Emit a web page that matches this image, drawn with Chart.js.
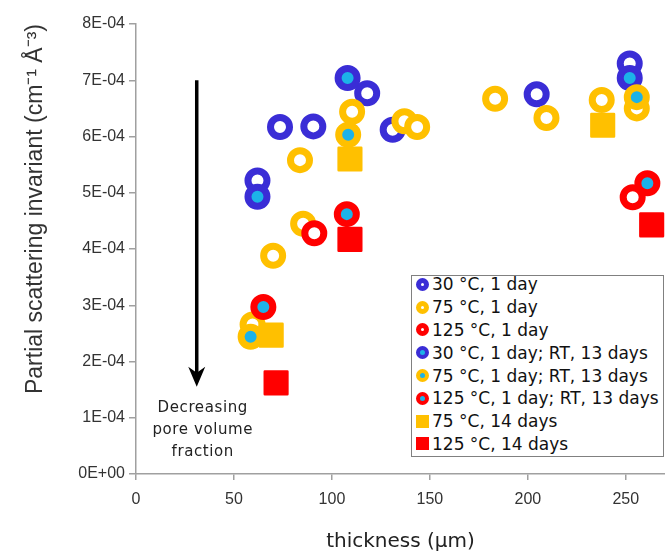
<!DOCTYPE html>
<html>
<head>
<meta charset="utf-8">
<script src="https://cdn.jsdelivr.net/npm/chart.js@4.4.1/dist/chart.umd.min.js"></script>
<style>
    body { margin: 0; background: #fff; overflow: hidden; }
    #wrap { position: relative; width: 665px; height: 552px; overflow: hidden; }
    #legend {
        position: absolute; left: 411px; top: 275px; width: 253px; height: 182px;
        box-sizing: border-box; border: 1.5px solid #808080; background: #fff;
        font: 17px "DejaVu Sans"; color: #111; overflow: hidden;
    }
    #legend .rows { margin-top: -3px; }
    #legend .row { display: flex; align-items: center; height: 22.8px; white-space: nowrap; }
    #legend .mk { box-sizing: border-box; width: 13px; height: 13px; margin: 0 3px 0 4px; flex: none; }
</style>
</head>
<body>
<div id="wrap">
    <canvas id="chart" width="665" height="552"></canvas>
    <div id="legend"><div class="rows"></div></div>
</div>
<script>
// axis ticks
const xTicks = [0, 50, 100, 150, 200, 250];
const yTicks = [0, 1e-4, 2e-4, 3e-4, 4e-4, 5e-4, 6e-4, 7e-4, 8e-4];
const yTickLabels = ["0E+00", "1E-04", "2E-04", "3E-04", "4E-04", "5E-04", "6E-04", "7E-04", "8E-04"];

// [thickness um, invariant]
const blue1Day = [[62, 5.22e-4], [73.5, 6.17e-4], [90.5, 6.18e-4], [118, 6.77e-4], [131, 6.12e-4], [204.5, 6.75e-4], [252, 7.30e-4]];
const yellow1Day = [[59.5, 2.66e-4], [70, 3.88e-4], [83.7, 5.58e-4], [85.3, 4.45e-4], [110.3, 6.44e-4], [137, 6.27e-4], [143.5, 6.17e-4], [183.3, 6.67e-4], [209.5, 6.33e-4], [237.7, 6.65e-4], [255.6, 6.50e-4]];
const red1Day = [[91, 4.28e-4], [253.5, 4.92e-4]];
const blueRT = [[62, 4.93e-4], [108, 7.04e-4], [252, 7.04e-4]];
const yellowRT = [[58.5, 2.44e-4], [108.3, 6.03e-4], [255.6, 6.70e-4]];
const redRT = [[65, 2.97e-4], [107.6, 4.62e-4], [261, 5.17e-4]];
const yellow14Days = [[69, 2.47e-4], [109.2, 5.60e-4], [238.2, 6.20e-4]];
const red14Days = [[71.5, 1.62e-4], [109.2, 4.17e-4], [263.2, 4.43e-4]];

const seriesLabels = [
    "30 °C, 1 day", "75 °C, 1 day", "125 °C, 1 day",
    "30 °C, 1 day; RT, 13 days", "75 °C, 1 day; RT, 13 days", "125 °C, 1 day; RT, 13 days",
    "75 °C, 14 days", "125 °C, 14 days"
];
const seriesData = [blue1Day, yellow1Day, red1Day, blueRT, yellowRT, redRT, yellow14Days, red14Days];

const BLUE = "#3a2dd6";
const YELLOW = "#ffc000";
const RED = "#ff0000";
const CYAN = "#1cb2e8";
const seriesColors = [BLUE, YELLOW, RED, BLUE, YELLOW, RED, YELLOW, RED];
const seriesKinds = ["ring", "ring", "ring", "dot", "dot", "dot", "square", "square"];

const note = { x: 31, yTop: 7.0e-4, yTip: 1.55e-4, lines: ["Decreasing", "pore volume", "fraction"] };

const datasets = seriesData.map((points, i) => {
    const kind = seriesKinds[i];
    const color = seriesColors[i];
    const ds = {
        label: seriesLabels[i],
        data: points.map(([x, y]) => ({ x, y })),
        borderColor: color,
        order: seriesData.length - i,
        clip: false
    };
    if (kind === "square") {
        ds.pointStyle = "rect";
        ds.pointRadius = 16;
        ds.borderWidth = 2.5;
        ds.backgroundColor = color;
    } else {
        ds.pointStyle = "circle";
        ds.pointRadius = 9.5;
        ds.borderWidth = 7;
        ds.backgroundColor = kind === "dot" ? CYAN : "#ffffff";
    }
    ds.pointHoverRadius = ds.pointRadius;
    ds.pointHoverBorderWidth = ds.borderWidth;
    return ds;
});

const arrowPlugin = {
    id: "arrowNote",
    beforeDatasetsDraw: (chart) => {
        chart.ctx.lineJoin = "round";
    },
    afterDraw: (chart) => {
        const { ctx, scales } = chart;
        const x = scales.x.getPixelForValue(note.x);
        const top = scales.y.getPixelForValue(note.yTop);
        const tip = scales.y.getPixelForValue(note.yTip);
        ctx.save();
        ctx.strokeStyle = "#000";
        ctx.fillStyle = "#000";
        ctx.lineWidth = 3.5;
        ctx.beginPath();
        ctx.moveTo(x, top);
        ctx.lineTo(x, tip - 10);
        ctx.stroke();
        ctx.beginPath();
        ctx.moveTo(x, tip);
        ctx.lineTo(x - 8.5, tip - 20);
        ctx.lineTo(x, tip - 14);
        ctx.lineTo(x + 8.5, tip - 20);
        ctx.closePath();
        ctx.fill();

        ctx.fillStyle = "#222";
        ctx.font = "15px 'DejaVu Sans'";
        ctx.letterSpacing = "0.6px";
        ctx.textAlign = "center";
        ctx.textBaseline = "middle";
        note.lines.forEach((line, i) => {
            ctx.fillText(line, x + 6, tip + 21 + i * 22);
        });
        ctx.restore();
    }
};

const chart = new Chart(document.getElementById("chart"), {
    type: "scatter",
    data: { datasets },
    options: {
        responsive: false,
        animation: false,
        devicePixelRatio: 1,
        events: [],
        layout: { autoPadding: false, padding: { top: 24, right: 0, bottom: 0, left: 0 } },
        plugins: { legend: { display: false }, tooltip: { enabled: false } },
        scales: {
            x: {
                type: "linear",
                min: 0,
                max: 270,
                afterBuildTicks: (scale) => { scale.ticks = xTicks.map((v) => ({ value: v })); },
                afterFit: (scale) => {
                    scale.height = 78;
                    scale.paddingLeft = 0;
                    scale.paddingRight = 0;
                },
                grid: { drawOnChartArea: false, drawTicks: true, tickLength: 6, color: "#a0a0a0", lineWidth: 1.5 },
                border: { color: "#a0a0a0", width: 1.5 },
                ticks: { color: "#333", font: { family: "Liberation Sans", size: 16 }, padding: 10, maxRotation: 0 },
                title: {
                    display: true,
                    text: "thickness (µm)",
                    color: "#222",
                    font: { family: "DejaVu Sans", size: 20 },
                    padding: { top: 0, bottom: -2 }
                }
            },
            y: {
                type: "linear",
                min: 0,
                max: 8e-4,
                afterBuildTicks: (scale) => { scale.ticks = yTicks.map((v) => ({ value: v })); },
                afterFit: (scale) => {
                    scale.width = 136;
                    scale.paddingTop = 0;
                    scale.paddingBottom = 0;
                },
                grid: { drawOnChartArea: false, drawTicks: true, tickLength: 7, color: "#a0a0a0", lineWidth: 1.5 },
                border: { color: "#a0a0a0", width: 1.5 },
                ticks: {
                    color: "#333",
                    font: { family: "Liberation Sans", size: 16 },
                    padding: 4,
                    callback: (value, index) => yTickLabels[index]
                },
                title: {
                    display: true,
                    text: "Partial scattering invariant (cm⁻¹ Å⁻³)",
                    align: "end",
                    color: "#333",
                    font: { family: "Liberation Sans", size: 23 },
                    padding: { top: 22, bottom: 0 }
                }
            }
        }
    },
    plugins: [arrowPlugin]
});

// html legend built from the same series
const rows = document.querySelector("#legend .rows");
seriesLabels.forEach((label, i) => {
    const row = document.createElement("div");
    row.className = "row";
    const mk = document.createElement("span");
    mk.className = "mk";
    const color = seriesColors[i];
    if (seriesKinds[i] === "square") {
        mk.style.background = color;
    } else {
        mk.style.borderRadius = "50%";
        mk.style.border = (seriesKinds[i] === "dot" ? 4.5 : 5) + "px solid " + color;
        mk.style.background = seriesKinds[i] === "dot" ? CYAN : "#fff";
    }
    const txt = document.createElement("span");
    txt.textContent = label;
    row.appendChild(mk);
    row.appendChild(txt);
    rows.appendChild(row);
});
</script>
</body>
</html>
